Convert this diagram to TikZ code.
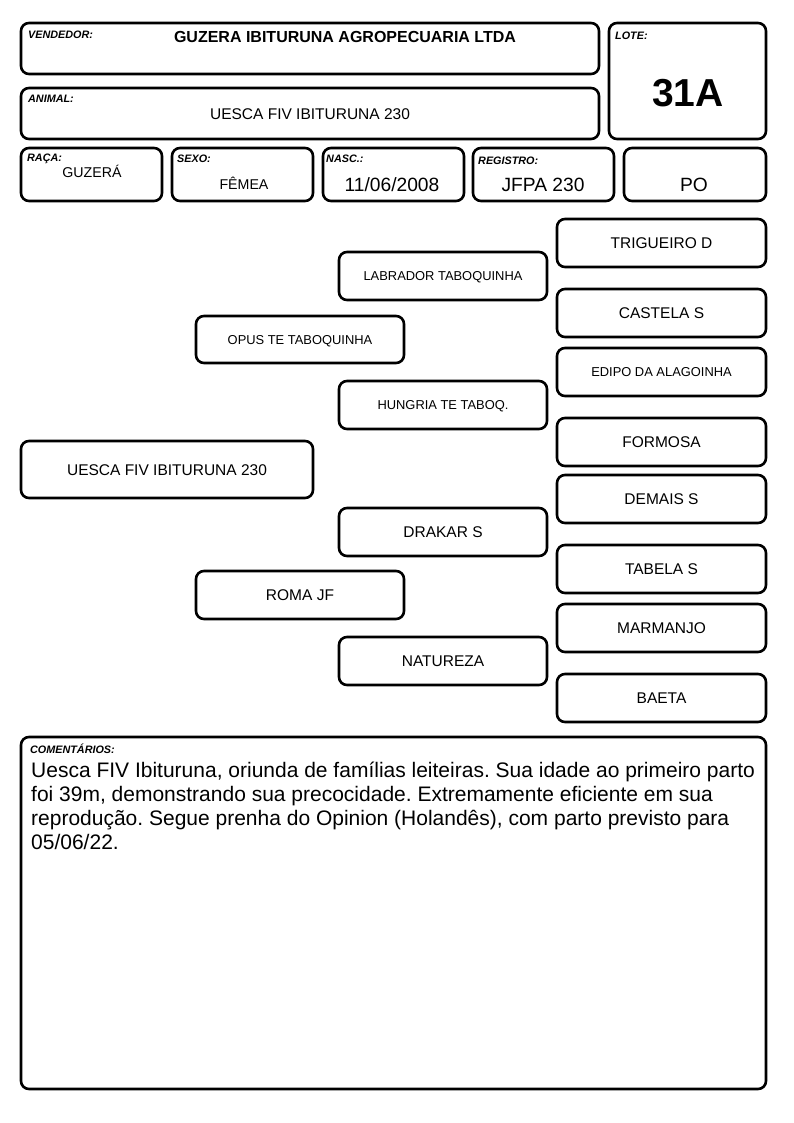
\documentclass[tikz,border=0pt]{standalone}
\usepackage{fontspec}
\setmainfont{Liberation Sans}
\frenchspacing
\tikzset{
  box/.style={draw=black, line width=2.6pt, rounded corners=8pt, inner sep=0pt, fill=white},
  lbl/.style={font=\fontsize{10.8}{12}\selectfont\bfseries\itshape, anchor=base west, inner sep=0pt},
  big/.style={font=\fontsize{15.5}{18}\selectfont, inner sep=0pt, text height=11.1pt, text depth=0pt},
  small/.style={font=\fontsize{12.9}{15}\selectfont, inner sep=0pt, text height=9.2pt, text depth=0pt},
  hdr/.style={inner sep=0pt, anchor=base},
  rbox/.style={box, minimum width=209pt, minimum height=48pt},
  mbox/.style={box, minimum width=208pt, minimum height=48pt},
  cline/.style={font=\fontsize{21}{24}\selectfont, anchor=base west, inner sep=0pt}
}
\begin{document}
\begin{tikzpicture}[x=1pt,y=-1pt]
\path[use as bounding box, fill=white] (0,0) rectangle (794,1123);
% header boxes
\node[box, minimum width=578pt, minimum height=51pt] (vend) at (310,48.5) {};
\node[box, minimum width=157pt, minimum height=116pt] (lote) at (687.5,81) {};
\node[box, minimum width=578pt, minimum height=51pt] (anim) at (310,113.5) {};
\node[box, minimum width=141pt, minimum height=53pt] (raca) at (91.5,174.5) {};
\node[box, minimum width=141pt, minimum height=53pt] (sexo) at (242.5,174.5) {};
\node[box, minimum width=141pt, minimum height=53pt] (nasc) at (393.5,174.5) {};
\node[box, minimum width=141pt, minimum height=53pt] (regi) at (543.5,174.5) {};
\node[box, minimum width=142pt, minimum height=53pt] (po) at (695,174.5) {};
% labels
\node[lbl] (lvend) at (28,39) {VENDEDOR:};
\node[lbl] (llote) at (615,40) {LOTE:};
\node[lbl] (lanim) at (28,103) {ANIMAL:};
\node[lbl] (lraca) at (27,162) {RAÇA:};
\node[lbl] (lsexo) at (177,163) {SEXO:};
\node[lbl] (lnasc) at (326,163) {NASC.:};
\node[lbl] (lregi) at (478,165) {REGISTRO:};
% header values
\node[hdr, font=\fontsize{16}{19}\selectfont\bfseries] (tvend) at (345,43) {GUZERA IBITURUNA AGROPECUARIA LTDA};
\node[hdr, font=\fontsize{39}{45}\selectfont\bfseries] (tlote) at (688,107) {31A};
\node[hdr, font=\fontsize{15.5}{18}\selectfont] (tanim) at (310,120) {UESCA FIV IBITURUNA 230};
\node[hdr, font=\fontsize{14.2}{17}\selectfont] (traca) at (92,178) {GUZERÁ};
\node[hdr, font=\fontsize{14.2}{17}\selectfont] (tsexo) at (244,190) {FÊMEA};
\node[hdr, font=\fontsize{19.2}{22}\selectfont] (tnasc) at (392,192) {11/06/2008};
\node[hdr, font=\fontsize{19.2}{22}\selectfont] (tregi) at (543,192) {JFPA 230};
\node[hdr, font=\fontsize{19.2}{22}\selectfont] (tpo) at (694,192) {PO};
% pedigree
\node[box, big, minimum width=292pt, minimum height=57pt] (main) at (167,469.5) {UESCA FIV IBITURUNA 230};
\node[box, small, minimum width=208pt, minimum height=47pt] (opus) at (300,339.5) {OPUS TE TABOQUINHA};
\node[box, big, minimum width=208pt, minimum height=48pt] (roma) at (300,595) {ROMA JF};
\node[mbox, small] (labr) at (443,276) {LABRADOR TABOQUINHA};
\node[mbox, small] (hung) at (443,405) {HUNGRIA TE TABOQ.};
\node[mbox, big] (drak) at (443,532) {DRAKAR S};
\node[mbox, big] (natu) at (443,661) {NATUREZA};
\node[rbox, big] (trig) at (661.5,243) {TRIGUEIRO D};
\node[rbox, big] (cast) at (661.5,313) {CASTELA S};
\node[rbox, small] (edip) at (661.5,372) {EDIPO DA ALAGOINHA};
\node[rbox, big] (form) at (661.5,442) {FORMOSA};
\node[rbox, big] (dema) at (661.5,499) {DEMAIS S};
\node[rbox, big] (tabe) at (661.5,569) {TABELA S};
\node[rbox, big] (marm) at (661.5,628) {MARMANJO};
\node[rbox, big] (baet) at (661.5,698) {BAETA};
% comments
\node[box, minimum width=745pt, minimum height=352pt] (comm) at (393.5,913) {};
\node[lbl] (lcomm) at (30,753) {COMENTÁRIOS:};
\node[cline] (c1) at (31,777) {Uesca FIV Ibituruna, oriunda de famílias leiteiras. Sua idade ao primeiro parto};
\node[cline] (c2) at (31,801) {foi 39m, demonstrando sua precocidade. Extremamente eficiente em sua};
\node[cline] (c3) at (31,825) {reprodução. Segue prenha do Opinion (Holandês), com parto previsto para};
\node[cline] (c4) at (31,849) {05/06/22.};
\end{tikzpicture}
\end{document}
